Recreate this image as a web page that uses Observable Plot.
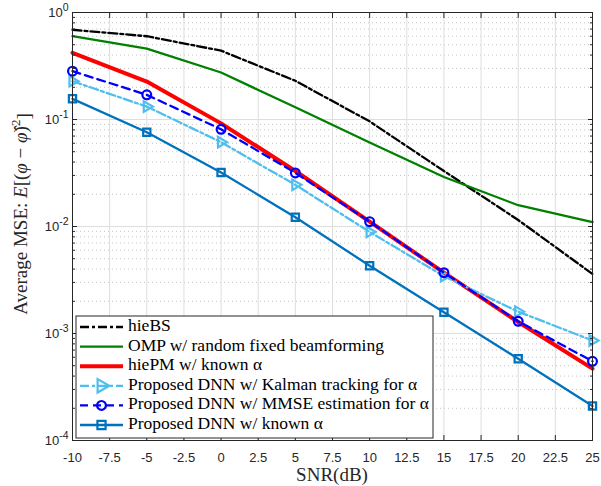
<!DOCTYPE html>
<html><head><meta charset="utf-8">
<script src="https://cdn.jsdelivr.net/npm/d3@7"></script>
<script src="https://cdn.jsdelivr.net/npm/@observablehq/plot@0.6"></script>
<style>
body{margin:0;background:#fff;}
#chart{position:relative;width:601px;height:486px;}
</style>
</head><body><div id="chart"></div>
<script>
// ---- data ----
const snr = [-10, -5, 0, 5, 10, 15, 20, 25];
const hieBS  = [0.69, 0.60, 0.44, 0.23, 0.096, 0.033, 0.0115, 0.0036];
const omp    = [0.60, 0.46, 0.275, 0.13, 0.061, 0.029, 0.0158, 0.011];
const hiePM  = [0.42, 0.226, 0.092, 0.033, 0.0111, 0.0037, 0.00128, 0.00047];
const kalman = [0.228, 0.132, 0.0614, 0.0245, 0.0089, 0.00343, 0.0016, 0.00086];
const mmse   = [0.283, 0.17, 0.081, 0.0317, 0.0111, 0.0037, 0.0013, 0.00055];
const known  = [0.156, 0.076, 0.032, 0.0122, 0.0043, 0.00158, 0.00058, 0.00021];
const xTicks = [-10, -7.5, -5, -2.5, 0, 2.5, 5, 7.5, 10, 12.5, 15, 17.5, 20, 22.5, 25];
const yTicks = [1e-4, 1e-3, 1e-2, 1e-1, 1];
const yMinor = [-4, -3, -2, -1].flatMap(k => [2,3,4,5,6,7,8,9].map(m => m * Math.pow(10, k)));
const legendLabels = [
  "hieBS",
  "OMP w/ random fixed beamforming",
  "hiePM w/ known α",
  "Proposed DNN w/ Kalman tracking for α",
  "Proposed DNN w/ MMSE estimation for α",
  "Proposed DNN w/ known α"
];

// ---- styles ----
const series = [
  {values: hieBS,  color: "#000000", width: 2.3, dash: "9,3,3,3", symbol: null},
  {values: omp,    color: "#008000", width: 2.3, dash: null,      symbol: null},
  {values: hiePM,  color: "#ff0000", width: 4,   dash: null,      symbol: null},
  {values: kalman, color: "#4DBEEE", width: 2.3, dash: "9,3,3,3", symbol: "triangle2", r: 5, rotate: 90},
  {values: mmse,   color: "#0000ff", width: 2.3, dash: "8,5",     symbol: "circle", r: 4.4},
  {values: known,  color: "#0072BD", width: 2.3, dash: null,      symbol: "square2", r: 4.6}
];
series.forEach((s, i) => s.label = legendLabels[i]);

const axisColor = "#262626";
const marks = [
  Plot.gridY(yMinor, {stroke: "#c4c4c4", strokeOpacity: 1, strokeDasharray: "1,3"}),
  Plot.gridY(yTicks, {stroke: "#dedede", strokeOpacity: 1}),
  Plot.gridX(xTicks, {stroke: "#dedede", strokeOpacity: 1}),
];
for (const s of series) {
  const data = snr.map((x, i) => ({x, y: s.values[i]}));
  marks.push(Plot.line(data, {x: "x", y: "y", stroke: s.color, strokeWidth: s.width, strokeDasharray: s.dash}));
  if (s.symbol) {
    marks.push(Plot.dot(data, {x: "x", y: "y", symbol: s.symbol, r: s.r, stroke: s.color, fill: "none", strokeWidth: 2.2, rotate: s.rotate || 0}));
  }
}
marks.push(
  Plot.frame({stroke: axisColor}),
  Plot.axisX(xTicks, {anchor: "bottom", tickSize: -5, tickPadding: 17, stroke: axisColor, fill: axisColor, label: null, tickFormat: d => String(d)}),
  Plot.axisX(xTicks, {anchor: "top", tickSize: -5, stroke: axisColor, label: null, tickFormat: () => ""}),
  Plot.axisY(yTicks, {anchor: "left", tickSize: -5, tickPadding: 9, stroke: axisColor, fill: axisColor, label: null, tickFormat: d => "10^" + Math.round(Math.log10(d))}),
  Plot.axisY(yTicks, {anchor: "right", tickSize: -5, stroke: axisColor, label: null, tickFormat: () => ""}),
  Plot.axisY(yMinor, {anchor: "left", tickSize: -3, stroke: axisColor, label: null, tickFormat: () => ""}),
  Plot.axisY(yMinor, {anchor: "right", tickSize: -3, stroke: axisColor, label: null, tickFormat: () => ""})
);

const chart = Plot.plot({
  width: 601, height: 486,
  marginLeft: 72, marginRight: 9, marginTop: 12, marginBottom: 46,
  style: {fontFamily: "'Liberation Sans', Arial, sans-serif", fontSize: "13px", background: "#fff"},
  x: {domain: [-10, 25]},
  y: {type: "log", domain: [1e-4, 1]},
  marks
});
document.getElementById("chart").appendChild(chart);

// ---- superscript tick labels ----
const svg = d3.select(chart);
svg.selectAll('g[aria-label="y-axis tick label"] text').each(function() {
  const t = this.textContent;
  if (!t.startsWith("10^")) return;
  const exp = t.slice(3);
  this.textContent = "10";
  d3.select(this).append("tspan").attr("dy", "-0.5em").attr("font-size", "10.5px").text(exp);
});

// ---- axis titles ----
const serif = "'Liberation Serif', 'Times New Roman', serif";
svg.append("text")
  .attr("x", 332).attr("y", 477)
  .attr("text-anchor", "middle").attr("dominant-baseline", "middle")
  .attr("font-family", serif).attr("font-size", 19).attr("fill", axisColor)
  .text("SNR(dB)");
const yl = svg.append("text")
  .attr("transform", "translate(23,214) rotate(-90)")
  .attr("text-anchor", "middle").attr("dominant-baseline", "middle")
  .attr("font-family", serif).attr("font-size", 19).attr("fill", axisColor);
yl.append("tspan").text("Average MSE: ");
yl.append("tspan").attr("font-style", "italic").text("E");
yl.append("tspan").text("[(");
yl.append("tspan").attr("font-style", "italic").text("φ");
yl.append("tspan").text(" − ");
yl.append("tspan").attr("font-style", "italic").text("φ\u0302");
yl.append("tspan").text(")");
yl.append("tspan").attr("dy", "-0.45em").attr("font-size", 13).text("2");
yl.append("tspan").attr("dy", "0.45em").text("]");

// ---- legend ----
const lg = svg.append("g").attr("aria-label", "legend");
const lx = 76, ly = 316, lw = 357, lh = 122;
lg.append("rect").attr("x", lx).attr("y", ly).attr("width", lw).attr("height", lh)
  .attr("fill", "#fff").attr("stroke", axisColor).attr("stroke-width", 1);
const symMap = {circle: d3.symbolCircle, square2: d3.symbolSquare, triangle2: d3.symbolTriangle};
series.forEach((s, i) => {
  const cy = ly + 11 + i * 19.6;
  lg.append("line").attr("x1", lx + 4).attr("x2", lx + 47).attr("y1", cy).attr("y2", cy)
    .attr("stroke", s.color).attr("stroke-width", s.width).attr("stroke-dasharray", s.dash);
  if (s.symbol) {
    lg.append("path")
      .attr("d", d3.symbol(symMap[s.symbol], s.r * s.r * Math.PI)())
      .attr("transform", `translate(${lx + 25.5},${cy}) rotate(${s.rotate || 0})`)
      .attr("fill", "none").attr("stroke", s.color).attr("stroke-width", 2.2);
  }
  lg.append("text").attr("x", lx + 52).attr("y", cy)
    .attr("text-anchor", "start").attr("dominant-baseline", "middle")
    .attr("font-family", serif).attr("font-size", 17.5).attr("fill", "#000")
    .text(s.label);
});
</script>
</body></html>
